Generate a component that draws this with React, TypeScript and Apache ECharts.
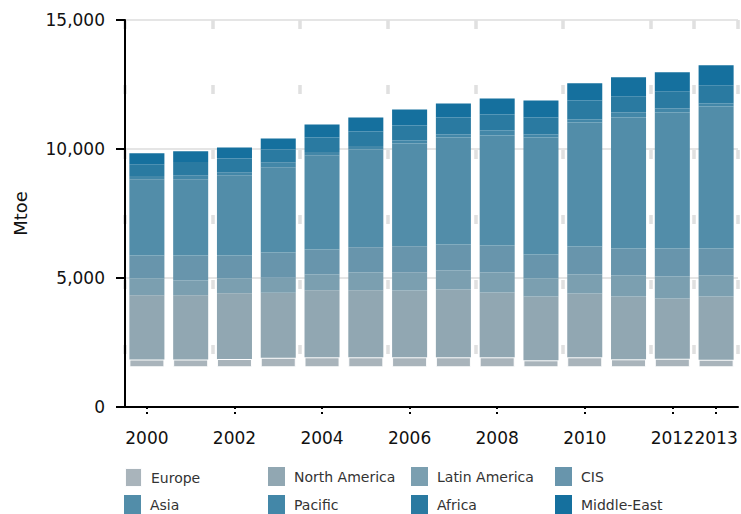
import React, { useEffect, useRef } from "react";
import * as echarts from "echarts";

const years = ["2000","2001","2002","2003","2004","2005","2006","2007","2008","2009","2010","2011","2012","2013"];
// hidden offset under the first visible band (bars start above zero in the picture)
const baseOffset = [1540,1540,1540,1540,1540,1540,1540,1540,1540,1540,1540,1540,1540,1540];
const europe = [300,300,320,370,386,386,386,386,386,270,386,308,334,295];
const northAmerica = [2495,2495,2546,2522,2599,2599,2586,2625,2509,2470,2470,2432,2328,2445];
const latinAmerica = [648,570,570,582,608,686,710,737,776,698,737,815,854,815];
const cis = [892,970,892,970,970,982,1009,1009,1048,931,1087,1047,1086,1047];
const asia = [2949,2949,3116,3310,3659,3790,3985,4152,4267,4540,4811,5083,5277,5509];
const pacific = [128,155,117,194,117,129,117,116,195,116,116,194,155,117];
const africa = [455,517,531,492,570,570,582,660,620,660,737,621,660,699];
const middleEast = [426,415,427,427,504,543,616,538,621,659,660,737,737,776];

const seriesNames = ["Europe","North America","Latin America","CIS","Asia","Pacific","Africa","Middle-East"];
const seriesData = [europe, northAmerica, latinAmerica, cis, asia, pacific, africa, middleEast];
const colors = ["#a9b4bb","#91a7b2","#7b9fb0","#6895ac","#528da9","#4387a8","#2a7aa1","#15709e"];
const yTicks = [0, 5000, 10000, 15000];

const FONT = "DejaVu Sans, Verdana, sans-serif";

export default function App() {
  const ref = useRef<HTMLDivElement>(null);
  useEffect(() => {
    if (!ref.current) return;
    const chart = echarts.init(ref.current, null, { renderer: "svg" });
    const showIdx = (i: number) => i % 2 === 0 || i === years.length - 1;
    const legendCols = [124, 268, 411, 555];
    const legendRows = [467, 495];
    const legends = seriesNames.map((n, i) => ({
      data: [n],
      left: legendCols[i % 4],
      top: legendRows[Math.floor(i / 4)],
      padding: 0,
      itemWidth: 17,
      itemHeight: 19,
      icon: "rect",
      selectedMode: false,
      textStyle: { fontSize: 14, color: "#333", fontFamily: FONT, padding: [0, 0, 0, 4] },
    }));
    const series: any[] = [
      {
        name: "base",
        type: "bar",
        stack: "total",
        data: baseOffset,
        silent: true,
        itemStyle: { color: "rgba(0,0,0,0)" },
        barCategoryGap: "20%",
      },
      ...seriesNames.map((n, i) => ({
        name: n,
        type: "bar",
        stack: "total",
        data: seriesData[i],
        barCategoryGap: "20%",
        itemStyle: i === 0
          ? { color: colors[i], borderColor: "rgba(255,255,255,0.95)", borderWidth: 1 }
          : { color: colors[i] },
      })),
    ];
    chart.setOption({
      animation: false,
      color: colors,
      textStyle: { fontFamily: FONT },
      grid: { left: 125, right: 3, top: 20, bottom: 107, containLabel: false },
      legend: legends,
      xAxis: {
        type: "category",
        data: years,
        boundaryGap: true,
        axisLine: { show: true, lineStyle: { color: "#000", width: 2 } },
        axisTick: {
          show: true,
          alignWithLabel: true,
          interval: (i: number) => showIdx(i),
          length: 9,
          lineStyle: { color: "#000", width: 2, type: [2, 3] },
        },
        axisLabel: {
          interval: (i: number) => showIdx(i),
          fontSize: 17,
          color: "#111",
          margin: 22,
          fontFamily: FONT,
          showMaxLabel: true,
          hideOverlap: false,
        },
        splitLine: {
          show: true,
          interval: (i: number) => showIdx(i),
          lineStyle: { color: "#e0e0e0", width: 3.5, type: [9, 56] },
        },
      },
      yAxis: {
        type: "value",
        min: yTicks[0],
        max: yTicks[yTicks.length - 1],
        interval: 5000,
        name: "Mtoe",
        nameLocation: "middle",
        nameRotate: 90,
        nameGap: 96,
        nameTextStyle: { fontSize: 18, color: "#111", fontFamily: FONT },
        axisLine: { show: true, lineStyle: { color: "#000", width: 2 } },
        axisTick: { show: true, length: 9, lineStyle: { color: "#000", width: 2 } },
        axisLabel: {
          fontSize: 17,
          color: "#111",
          margin: 20,
          fontFamily: FONT,
          formatter: (v: number) => v.toLocaleString("en-US"),
        },
        splitLine: { show: true, lineStyle: { color: "#dcdcdc", width: 1.5 } },
      },
      series,
    });
    return () => chart.dispose();
  }, []);
  return <div ref={ref} style={{ width: 741, height: 514, position: "absolute", left: 0, top: 0 }} />;
}
